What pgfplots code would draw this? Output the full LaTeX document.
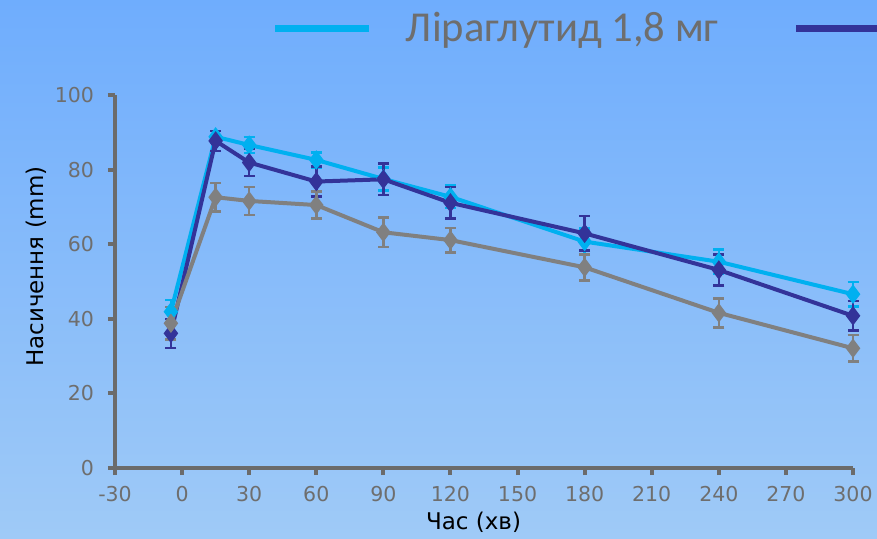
\documentclass[border=0pt]{standalone}
\usepackage{pgfplots}
\pgfplotsset{compat=1.18}
\usepackage{pgfplotstable}
\usepackage{fontspec}
\setmainfont{DejaVu Sans}
\newfontfamily\legendfont{Carlito}

\definecolor{bgtop}{HTML}{6FADFD}
\definecolor{bgbot}{HTML}{9FCAF7}
\definecolor{liracyan}{HTML}{00B0F0}
\definecolor{liradark}{HTML}{333399}
\definecolor{placebo}{HTML}{808080}
\definecolor{axisgray}{HTML}{6B6B6B}
\definecolor{ticktext}{HTML}{6E6E6E}

% time (min), mean satiety (mm), error
\pgfplotstableread{
t    v     e
-5   41.9  3.1
15   88.8  1.5
30   86.6  2.1
60   82.6  2.0
90   77.5  3.1
120  72.7  3.0
180  60.7  3.5
240  55.3  3.3
300  46.6  3.3
}\liraLow
\pgfplotstableread{
t    v     e
-5   36.1  3.9
15   87.7  2.7
30   81.9  3.6
60   76.8  4.0
90   77.4  4.2
120  71.1  4.2
180  62.9  4.6
240  53.1  4.2
300  40.8  4.0
}\liraHigh
\pgfplotstableread{
t    v     e
-5   38.8  4.3
15   72.6  3.8
30   71.6  3.8
60   70.5  3.6
90   63.2  4.0
120  61.1  3.3
180  53.8  3.5
240  41.6  3.9
300  32.1  3.6
}\placeboTab

\begin{document}
\begin{tikzpicture}
\useasboundingbox (0,0) rectangle (438.5pt,269pt);
\clip (0,0) rectangle (438.5pt,269pt);
\shade[top color=bgtop, bottom color=bgbot] (0,0) rectangle (438.5pt,269pt);
\begin{axis}[
  at={(57.5pt,35pt)}, anchor=south west,
  scale only axis, width=369pt, height=186.5pt,
  xmin=-30, xmax=300, ymin=0, ymax=100,
  xtick={-30,0,...,300}, ytick={0,20,...,100},
  axis lines=left,
  axis line style={-, draw=axisgray, line width=2.2pt},
  tick style={draw=axisgray, line width=2pt},
  tick align=outside, major tick length=3.5pt,
  minor tick num=0,
  clip=false,
  /pgf/number format/assume math mode=true,
  tick label style={font=\fontsize{10.25}{12}\selectfont, text=ticktext},
  yticklabel style={xshift=-3.5pt},
  xticklabel style={yshift=-2pt},
  xlabel={Час (хв)}, ylabel={Насичення (mm)},
  label style={font=\fontsize{11.5}{14}\selectfont, text=black},
  xlabel style={at={(axis description cs:0.4858,-0.1448)}, anchor=center},
  ylabel style={at={(axis description cs:-0.1060,0.54)}, anchor=center},
  every axis plot/.append style={line width=2pt},
  error bars/error bar style={line width=1.25pt, solid},
  error bars/error mark options={rotate=90, mark size=2.75pt, line width=1.25pt},
  legend image code/.code={\draw[line width=3.5pt] (0pt,0pt) -- (47pt,0pt);},
  legend columns=-1,
  legend style={at={(0.2127,1.1796)}, anchor=west, draw=none, fill=none,
    inner sep=0pt, outer sep=0pt,
    font=\legendfont\fontsize{21.3}{25}\selectfont, text=ticktext,
    /tikz/every odd column/.append style={column sep=14.5pt},
    /tikz/every even column/.append style={column sep=35pt}},
]
\addplot[color=liracyan, mark=diamond*, mark size=3.2pt, mark options={solid},
  error bars/.cd, y dir=both, y explicit]
  table[x=t, y=v, y error=e] {\liraLow};
\addlegendentry{Ліраглутид 1,8 мг}
\addplot[color=liradark, mark=diamond*, mark size=3.2pt, mark options={solid},
  error bars/.cd, y dir=both, y explicit]
  table[x=t, y=v, y error=e] {\liraHigh};
\addlegendentry{Ліраглутид 3,0 мг}
\addplot[color=placebo, mark=diamond*, mark size=3.2pt, mark options={solid},
  error bars/.cd, y dir=both, y explicit]
  table[x=t, y=v, y error=e] {\placeboTab};
\addlegendentry{Плацебо}
\end{axis}
\end{tikzpicture}
\end{document}
